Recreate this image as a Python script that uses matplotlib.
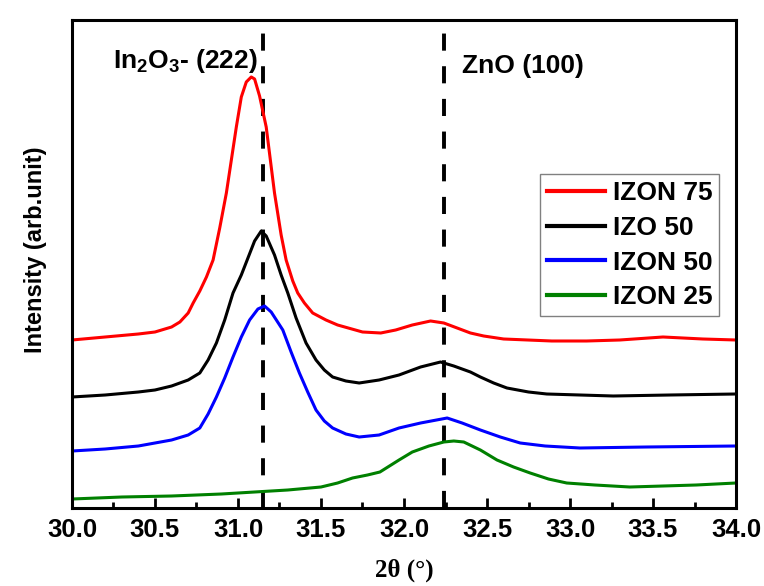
import numpy as np
import matplotlib
matplotlib.use('Agg')
from matplotlib import pyplot as plt

############# data (arb. units)

x_izon75 = [30.0, 30.2, 30.4, 30.5, 30.6, 30.65, 30.7, 30.73, 30.77, 30.81, 30.85, 30.89, 30.93,
            30.96, 30.99, 31.02, 31.05, 31.08, 31.1, 31.13, 31.17, 31.22, 31.26, 31.29, 31.33,
            31.36, 31.4, 31.45, 31.53, 31.6, 31.75, 31.86, 31.95, 32.05, 32.16, 32.24, 32.32,
            32.4, 32.48, 32.6, 32.89, 33.1, 33.3, 33.56, 33.8, 34.0]
y_izon75 = [168, 171, 174, 176, 181, 186, 195, 205, 217, 231, 248, 280, 315,
            348, 381, 411, 426, 431, 429, 412, 381, 315, 273, 248, 227,
            215, 205, 195, 188, 183, 176, 175, 178, 183, 187, 185, 180,
            175, 172, 169, 167, 167, 168, 171, 169, 168]

x_izo50 = [30.0, 30.2, 30.4, 30.5, 30.6, 30.7, 30.77, 30.82, 30.87, 30.92, 30.97, 31.02, 31.06,
           31.1, 31.14, 31.17, 31.22, 31.26, 31.3, 31.35, 31.41, 31.47, 31.52, 31.57, 31.65,
           31.73, 31.85, 31.97, 32.1, 32.22, 32.3, 32.4, 32.46, 32.54, 32.62, 32.75, 32.86,
           33.26, 33.6, 34.0]
y_izo50 = [111, 113, 116, 118, 122, 128, 135, 148, 165, 188, 215, 233, 250,
           267, 277, 272, 253, 233, 215, 190, 165, 148, 138, 131, 127,
           125, 128, 133, 141, 146, 142, 136, 131, 125, 120, 116, 114,
           112, 113, 114]

x_izon50 = [30.0, 30.2, 30.4, 30.5, 30.6, 30.7, 30.77, 30.82, 30.87, 30.92, 30.97, 31.02, 31.07,
            31.12, 31.16, 31.2, 31.27, 31.32, 31.37, 31.42, 31.47, 31.52, 31.57, 31.65, 31.73,
            31.85, 31.97, 32.1, 32.26, 32.35, 32.46, 32.58, 32.7, 32.85, 33.06, 33.46, 34.0]
y_izon50 = [57, 59, 62, 65, 68, 73, 80, 94, 111, 130, 151, 171, 188,
            199, 202, 196, 178, 156, 135, 116, 98, 87, 80, 74, 71,
            73, 80, 85, 90, 85, 78, 71, 65, 62, 60, 61, 62]

x_izon25 = [30.0, 30.3, 30.6, 30.9, 31.1, 31.3, 31.5, 31.6, 31.69, 31.78, 31.855, 31.97, 32.05,
            32.15, 32.24, 32.3, 32.36, 32.46, 32.56, 32.66, 32.76, 32.87, 32.98, 33.15, 33.36,
            33.56, 33.76, 34.0]
y_izon25 = [9, 11, 12, 14, 16, 18, 21, 25, 30, 33, 36, 48, 56,
            62, 66, 67, 66, 58, 48, 41, 35, 29, 25, 23, 21,
            22, 23, 25]

series = [('IZON 75', x_izon75, y_izon75, 'red'),
          ('IZO 50', x_izo50, y_izo50, 'black'),
          ('IZON 50', x_izon50, y_izon50, 'blue'),
          ('IZON 25', x_izon25, y_izon25, 'green')]

# peak positions for the reference lines
peak_in2o3 = 31.15
peak_zno = 32.24

############# plot

plt.rcParams['font.family'] = ['Liberation Sans', 'DejaVu Sans']
plt.rcParams['font.weight'] = 'bold'
plt.rcParams['mathtext.fontset'] = 'custom'
plt.rcParams['mathtext.rm'] = 'Liberation Sans:bold'
plt.rcParams['mathtext.bf'] = 'Liberation Sans:bold'
plt.rcParams['mathtext.default'] = 'bf'

fig = plt.figure(figsize=(7.64, 5.86), dpi=100)
ax = fig.add_axes([0.0942, 0.1331, 0.8692, 0.8328])

for label, xs, ys, col in series:
    ax.plot(xs, ys, color=col, lw=2.2, label=label)

for xp in [peak_in2o3, peak_zno]:
    ax.axvline(xp, color='black', lw=2.8, ls=(0, (4.4, 4.0)), zorder=1)

ax.text(30.247, 440, 'In$_2$O$_3$- (222)', fontsize=19, fontweight='bold', va='baseline')
ax.text(32.35, 435, 'ZnO (100)', fontsize=19, fontweight='bold', va='baseline')

ax.set_xlim(30.0, 34.0)
ax.set_ylim(0, 488)
ax.set_xticks(np.arange(30.0, 34.01, 0.5))
ax.set_xticks(np.arange(30.0, 34.01, 0.25), minor=True)
ax.set_yticks([])
ax.tick_params(axis='x', which='major', direction='in', length=7, width=2, labelsize=18.5, pad=7)
ax.tick_params(axis='x', which='minor', direction='in', length=4, width=2)
ax.set_xticklabels(['%.1f' % v for v in np.arange(30.0, 34.01, 0.5)], fontweight='bold')
for sp in ax.spines.values():
    sp.set_linewidth(2.2)

ax.set_xlabel('2θ (°)', family='Liberation Serif', fontsize=18, fontweight='bold', labelpad=12)
ax.set_ylabel('Intensity (arb.unit)', fontsize=17, fontweight='bold')
ax.yaxis.set_label_coords(-0.037, 0.529)

leg = ax.legend(loc='lower right', bbox_to_anchor=(719 / 764, 270 / 586), bbox_transform=fig.transFigure,
                fontsize=19, frameon=True, fancybox=False, framealpha=1, edgecolor='#808080',
                handlelength=2.2, handletextpad=0.3, borderpad=0.25, labelspacing=0.41, borderaxespad=0)
leg.get_frame().set_linewidth(1.0)
for line in leg.get_lines():
    line.set_linewidth(3)

fig.savefig('out.png', dpi=100)
